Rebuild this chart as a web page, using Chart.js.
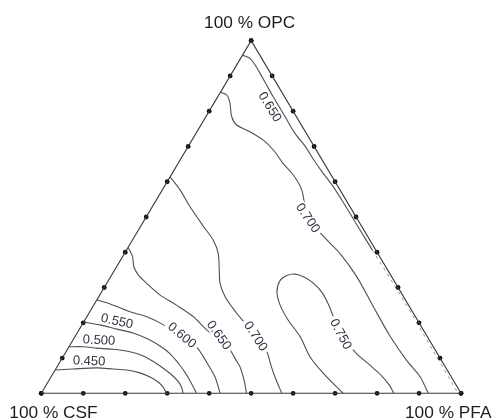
<!DOCTYPE html>
<html>
<head>
<meta charset="utf-8">
<script src="https://cdn.jsdelivr.net/npm/chart.js@4/dist/chart.umd.min.js"></script>
<style>
  html, body { margin: 0; padding: 0; background: #fff; }
  canvas { display: block; }
</style>
</head>
<body>
<canvas id="ternary" width="493" height="419"></canvas>
<script>
// every point is a composition [PFA %, OPC %]; CSF is the remainder
const gridSteps = [0, 10, 20, 30, 40, 50, 60, 70, 80, 90, 100]
const vertices = [[0, 0], [100, 0], [0, 100], [0, 0]]

const c450 = [[0, 6.6], [4.1, 6.9], [9.7, 7.2], [13.6, 6.9], [17.1, 6.6], [20.6, 5.8], [23.6, 4.6], [26.2, 3.2], [28.1, 1.8], [29.9, 0]]
const c500 = [[0, 13.2], [3.4, 13.2], [6.8, 12.8], [10.9, 12.5], [15.2, 11.8], [19.0, 10.6], [22.2, 9.0], [25.5, 7.1], [28.5, 5.2], [31.0, 3.3], [32.5, 1.8], [33.8, 0]]
const c550 = [[0, 20.2], [4.3, 19.4], [8.9, 18.2], [13.3, 17.1], [17.7, 15.4], [21.6, 13.4], [25.1, 11.2], [28.3, 8.6], [31.2, 6.0], [33.7, 3.5], [35.6, 1.5], [37.0, 0]]
const c600 = [[0, 26.5], [2.7, 25.7], [5.7, 24.6], [9.6, 23.1], [14.3, 21.7], [18.4, 19.9], [25.4, 16.3], [30.7, 12.9], [35.2, 8.6], [39.1, 4.6], [42.6, 0]]
const c650Lower = [[0, 41.4], [2.4, 38.7], [4.1, 35.9], [6.3, 33.6], [9.5, 31.2], [14.3, 27.9], [19.7, 25.0], [25.4, 21.7], [30.4, 18.0], [34.3, 15.7], [38.8, 12.3], [41.7, 9.4], [43.6, 7.5], [46.4, 3.8], [48.9, 0]]
const c700Lower = [[0, 61.4], [4.2, 57.7], [9.0, 52.9], [15.0, 47.3], [19.2, 43.5], [22.3, 39.7], [24.9, 35.0], [27.0, 31.2], [30.1, 27.4], [35.2, 22.7], [38.6, 19.9], [43.2, 16.0], [47.9, 11.7], [50.7, 8.0], [53.3, 4.7], [57.3, 0]]
const c750 = [[71.9, 0], [64.2, 5.8], [58.9, 10.3], [53.7, 16.0], [48.4, 20.8], [44.4, 25.0], [41.8, 28.7], [40.9, 31.9], [41.8, 33.4], [43.5, 33.8], [46.1, 33.0], [49.1, 31.3], [52.7, 28.5], [56.0, 25.0], [63.0, 16.8], [69.3, 11.4], [74.3, 8.0], [78.7, 4.9], [82.0, 2.1], [84.0, 0]]
const c700Upper = [[0, 85.4], [1.9, 84.6], [3.8, 82.3], [6.1, 78.5], [8.5, 76.1], [12.6, 74.2], [17.0, 71.8], [20.8, 69.0], [25.0, 65.2], [29.1, 61.9], [33.2, 57.7], [38.7, 49.7], [46.3, 43.5], [51.3, 39.7], [58.6, 33.1], [66.8, 24.6], [75.1, 16.1], [82.3, 9.4], [87.9, 4.7], [92.2, 0]]
const c650Upper = [[0, 95.9], [2.2, 95.0], [4.4, 93.1], [6.7, 90.8], [9.7, 87.7], [13.0, 84.3], [16.4, 80.9], [19.8, 77.5], [23.5, 73.8], [27.8, 70.1], [31.5, 66.5], [35.5, 62.8], [39.7, 59.1], [44.2, 54.8], [52.8, 46.3], [58.6, 40.6]]
const c650Edge = [[58.6, 40.6], [73.0, 26.5], [87.1, 12.3], [98.7, 0.6]]

const contourLabels = [
  {text: '0.450', at: [6.8, 9.2], angle: 2, gap: false},
  {text: '0.500', at: [6.2, 15.1], angle: 3, gap: false},
  {text: '0.550', at: [7.8, 20.5], angle: 12, gap: false},
  {text: '0.600', at: [25.3, 16.5], angle: 40, gap: true},
  {text: '0.650', at: [34.1, 16.5], angle: 55, gap: true},
  {text: '0.700', at: [43.0, 16.2], angle: 57, gap: true},
  {text: '0.750', at: [63.0, 16.8], angle: 62, gap: true},
  {text: '0.700', at: [38.7, 49.7], angle: 56, gap: true},
  {text: '0.650', at: [13.9, 81.2], angle: 58, gap: false}
]
const cornerNames = ['100 % CSF', '100 % PFA', '100 % OPC']

// ternary -> cartesian on a 0..100 square
const toXY = ([pfa, opc]) => ({x: pfa + opc / 2, y: opc})

const line = (pts, extra) => Object.assign({
  data: pts.map(toXY),
  showLine: true,
  borderColor: '#505050',
  borderWidth: 1.1,
  pointRadius: 0,
  tension: 0.3,
  clip: false
}, extra)

const edgeDots = gridSteps.flatMap(s => [[s, 0], [0, s], [100 - s, s]])

const labelPlugin = {
  id: 'ternaryLabels',
  afterDatasetsDraw(chart) {
    const {ctx, scales: {x, y}} = chart
    const px = p => x.getPixelForValue(toXY(p).x)
    const py = p => y.getPixelForValue(toXY(p).y)
    ctx.save()
    ctx.font = '13px "Liberation Sans", Arial, sans-serif'
    ctx.textAlign = 'center'
    ctx.textBaseline = 'middle'
    contourLabels.forEach(l => {
      ctx.save()
      ctx.translate(px(l.at), py(l.at))
      ctx.rotate(l.angle * Math.PI / 180)
      const w = ctx.measureText(l.text).width
      if (l.gap) {
        ctx.fillStyle = '#fff'
        ctx.fillRect(-w / 2 - 3, -6, w + 6, 12)
      }
      ctx.fillStyle = '#2f3440'
      ctx.fillText(l.text, 0, 0.5)
      ctx.restore()
    })

    ctx.font = '17.3px "Liberation Sans", Arial, sans-serif'
    ctx.fillStyle = '#1e1e1e'
    ctx.textBaseline = 'alphabetic'
    const csf = [0, 0], pfa = [100, 0], opc = [0, 100]
    ctx.textAlign = 'left'
    ctx.fillText(cornerNames[0], px(csf) - 32, py(csf) + 25)
    ctx.fillText(cornerNames[1], px(pfa) - 56, py(pfa) + 25)
    ctx.textAlign = 'center'
    ctx.fillText(cornerNames[2], px(opc) - 1.5, py(opc) - 13)
    ctx.restore()
  }
}

new Chart(document.getElementById('ternary'), {
  type: 'scatter',
  data: {
    datasets: [
      line(c450), line(c500), line(c550), line(c600),
      line(c650Lower), line(c700Lower), line(c750),
      line(c700Upper), line(c650Upper),
      line(c650Edge, {borderDash: [3, 4], borderColor: '#777', borderWidth: 0.8}),
      line(vertices, {borderColor: '#3a3a3a', tension: 0}),
      {
        data: edgeDots.map(toXY),
        pointRadius: 2.4,
        pointBackgroundColor: '#111',
        pointBorderWidth: 0,
        clip: false
      }
    ]
  },
  options: {
    responsive: false,
    animation: false,
    devicePixelRatio: 1,
    events: [],
    layout: {padding: {left: 41.3, right: 32, top: 40.7, bottom: 25.7}},
    scales: {
      x: {type: 'linear', min: 0, max: 100, display: false},
      y: {type: 'linear', min: 0, max: 100, display: false}
    },
    plugins: {legend: {display: false}, tooltip: {enabled: false}}
  },
  plugins: [labelPlugin]
})
</script>
</body>
</html>
